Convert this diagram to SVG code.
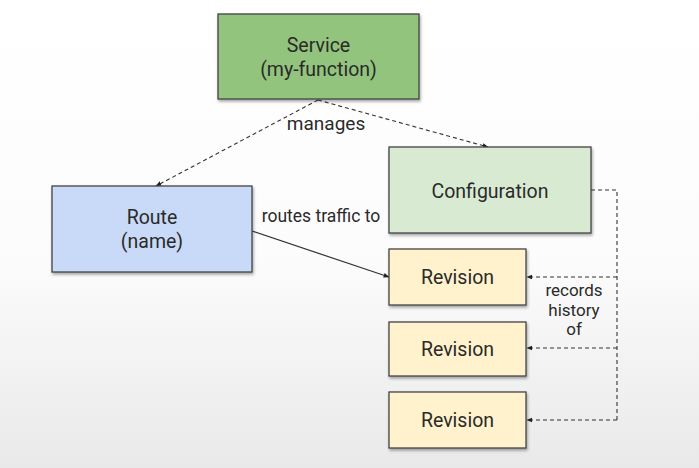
<svg xmlns="http://www.w3.org/2000/svg" width="699" height="468" viewBox="0 0 699 468">
<defs>
<linearGradient id="bg" x1="0" y1="0" x2="0" y2="1">
<stop offset="0" stop-color="#ffffff"/>
<stop offset="0.55" stop-color="#fcfcfc"/>
<stop offset="1" stop-color="#e9e9e9"/>
</linearGradient>
<filter id="sh" x="-10%" y="-10%" width="130%" height="130%">
<feGaussianBlur in="SourceAlpha" stdDeviation="1.5"/>
<feOffset dx="1" dy="2"/>
<feComponentTransfer><feFuncA type="linear" slope="0.35"/></feComponentTransfer>
<feMerge><feMergeNode/><feMergeNode in="SourceGraphic"/></feMerge>
</filter>
<marker id="ah" viewBox="0 0 10 10" refX="9" refY="5" markerWidth="6" markerHeight="6" orient="auto" markerUnits="userSpaceOnUse">
<path d="M0,1 L10,5 L0,9 z" fill="#222"/>
</marker>
</defs>
<style>
.box{stroke:#444;stroke-width:1.3;filter:url(#sh)}
.t{font-family:Roboto,"Liberation Sans",sans-serif;font-size:19.5px;fill:#2a2a2a;text-anchor:middle}
.lbl{font-family:Roboto,"Liberation Sans",sans-serif;font-size:17px;fill:#2a2a2a;text-anchor:middle}
.d{fill:none;stroke:#333;stroke-width:1.1;stroke-dasharray:4,3}
.s{fill:none;stroke:#333;stroke-width:1.2}
</style>
<rect width="699" height="468" fill="url(#bg)"/>
<g id="connectors">
<path class="d" d="M318,100 L156,186" marker-end="url(#ah)"/>
<path class="d" d="M318,100 L488,147" marker-end="url(#ah)"/>
<path class="s" d="M252,231 L389,277" marker-end="url(#ah)"/>
<path class="d" d="M591,190 L617,190 L617,420"/>
<path class="d" d="M617,277 L527,277" marker-end="url(#ah)"/>
<path class="d" d="M617,348 L527,348" marker-end="url(#ah)"/>
<path class="d" d="M617,420 L527,420" marker-end="url(#ah)"/>
<text class="lbl" x="326" y="130" style="font-size:19px">manages</text>
<text class="lbl" x="321" y="222" style="font-size:17.5px">routes traffic to</text>
<text class="lbl" x="574" y="296">records</text>
<text class="lbl" x="574" y="316">history</text>
<text class="lbl" x="574" y="335">of</text>
</g>
<g id="service">
<rect class="box" x="218" y="14" width="201" height="85" fill="#93c47d"/>
<text class="t" x="318.5" y="52">Service</text>
<text class="t" x="318.5" y="76">(my-function)</text>
</g>
<g id="route">
<rect class="box" x="52" y="186" width="200" height="86" fill="#c9daf8"/>
<text class="t" x="152" y="224">Route</text>
<text class="t" x="152" y="248">(name)</text>
</g>
<g id="configuration">
<rect class="box" x="389" y="147" width="202" height="86" fill="#d9ead3"/>
<text class="t" x="490" y="198">Configuration</text>
</g>
<g id="revision1">
<rect class="box" x="389" y="249" width="137" height="56" fill="#fff2cc"/>
<text class="t" x="457.5" y="284">Revision</text>
</g>
<g id="revision2">
<rect class="box" x="389" y="322" width="137" height="54" fill="#fff2cc"/>
<text class="t" x="457.5" y="356">Revision</text>
</g>
<g id="revision3">
<rect class="box" x="389" y="392" width="137" height="56" fill="#fff2cc"/>
<text class="t" x="457.5" y="427">Revision</text>
</g>
</svg>
